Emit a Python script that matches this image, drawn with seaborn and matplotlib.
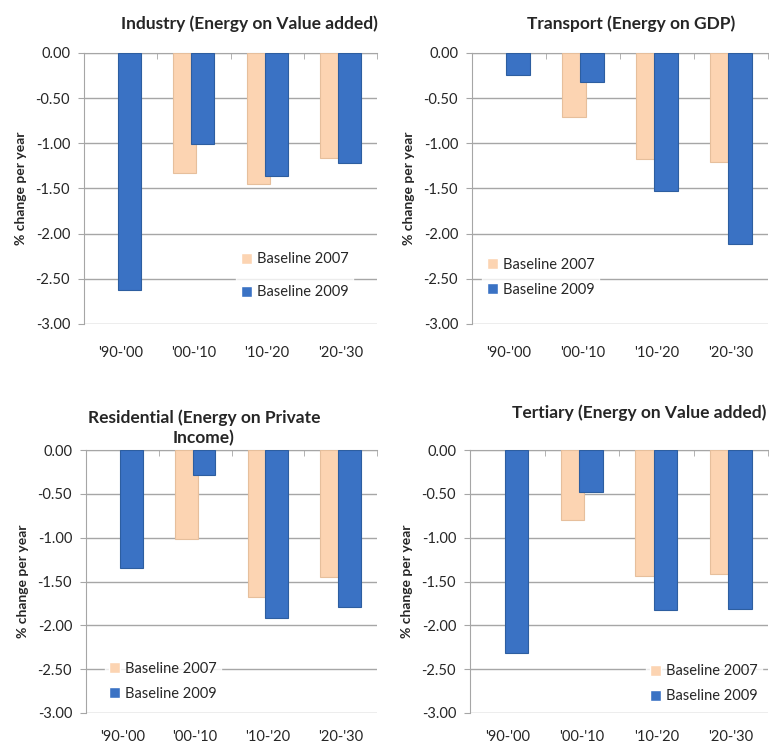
import pandas as pd
import numpy as np
import matplotlib
matplotlib.use("Agg")
import matplotlib.pyplot as plt
import seaborn as sns

periods = ["'90-'00", "'00-'10", "'10-'20", "'20-'30"]
series_names = ["Baseline 2007", "Baseline 2009"]

titles = ["Industry (Energy on Value added)",
          "Transport (Energy on GDP)",
          "Residential (Energy on Private\nIncome)",
          "Tertiary (Energy on Value added)"]

industry_2007 = [np.nan, -1.33, -1.45, -1.16]
industry_2009 = [-2.62, -1.01, -1.36, -1.22]
transport_2007 = [np.nan, -0.71, -1.17, -1.21]
transport_2009 = [-0.24, -0.32, -1.53, -2.11]
residential_2007 = [np.nan, -1.02, -1.68, -1.45]
residential_2009 = [-1.35, -0.29, -1.92, -1.79]
tertiary_2007 = [np.nan, -0.80, -1.44, -1.42]
tertiary_2009 = [-2.32, -0.48, -1.82, -1.81]

panels = [(industry_2007, industry_2009),
          (transport_2007, transport_2009),
          (residential_2007, residential_2009),
          (tertiary_2007, tertiary_2009)]

sns.set_style("white")
plt.rcParams['font.family'] = ['Lato', 'DejaVu Sans']

colors = {"Baseline 2007": "#fcd4b2", "Baseline 2009": "#3a72c4"}
edges = {"Baseline 2007": "#e6bf9c", "Baseline 2009": "#2d5ea0"}

fig = plt.figure(figsize=(7.69, 7.45), dpi=100)
W, H = 769, 745
# axes boxes in pixels: left, top, right, bottom
rects = [(84, 53, 377, 324), (472, 53, 768, 324),
         (86, 450, 377, 713), (470, 450, 768, 713)]
legend_pos = [(0.52, 0.075), (0.035, 0.085), (0.065, 0.03), (0.59, 0.02)]
legend_spacing = [1.3, 0.75, 0.75, 0.75]
title_x = [0.563, 0.537, 0.405, 0.567]
title_pad = [17, 17, 5, 23]
xlabel_pad = [16, 16, 12, 12]

for i, (s07, s09) in enumerate(panels):
    x0, y0, x1, y1 = rects[i]
    ax = fig.add_axes([x0 / W, 1 - y1 / H, (x1 - x0) / W, (y1 - y0) / H])
    df = pd.DataFrame({
        "period": periods * 2,
        "series": [series_names[0]] * 4 + [series_names[1]] * 4,
        "value": list(s07) + list(s09),
    })
    sns.barplot(data=df, x="period", y="value", hue="series",
                palette=colors, width=0.49, ax=ax, errorbar=None,
                saturation=1, zorder=3)
    # widen bars so neighbours overlap a bit (excel-like overlap)
    for bar in ax.patches:
        if bar.get_height() == 0 or np.isnan(bar.get_height()):
            continue
        c = bar.get_x() + bar.get_width() / 2
        bar.set_width(0.315)
        bar.set_x(c - 0.315 / 2)
    for cont, name in zip(ax.containers, series_names):
        for bar in cont:
            bar.set_edgecolor(edges[name])
            bar.set_linewidth(0.8)
    for bar in ax.containers[1]:
        bar.set_zorder(4)

    ax.set_ylim(-3.0, 0.0)
    ax.set_xlim(-0.5, 3.5)
    yt = np.arange(-3.0, 0.01, 0.5)
    ax.set_yticks(yt)
    ax.set_yticklabels([f"{v:.2f}" for v in yt])
    ax.yaxis.grid(True, color="#a6a6a6", linewidth=1.0, zorder=0)
    ax.set_axisbelow(True)
    for side in ["right", "bottom"]:
        ax.spines[side].set_visible(False)
    ax.spines["left"].set_color("#a6a6a6")
    ax.spines["top"].set_color("#a6a6a6")
    ax.set_xticks(range(4))
    ax.set_xticklabels(periods)
    ax.set_xticks([-0.5, 0.5, 1.5, 2.5, 3.5], minor=True)
    ax.tick_params(axis="x", which="major", length=0, pad=xlabel_pad[i],
                   labelsize=10.5)
    ax.tick_params(axis="x", which="minor", top=True, bottom=False,
                   direction="in", length=4, color="#a6a6a6")
    ax.tick_params(axis="y", left=True, length=4, color="#a6a6a6",
                   labelsize=10.5, pad=6)
    ax.set_xlabel("")
    ax.set_ylabel("% change per year", fontsize=10, fontweight="bold", labelpad=6)
    ax.set_title(titles[i], fontsize=12.5, fontweight="bold", pad=title_pad[i],
                 linespacing=1.25, multialignment="center")
    ax.title.set_x(title_x[i])

    leg = ax.legend(loc="lower left", bbox_to_anchor=legend_pos[i],
                    frameon=True, fancybox=False, fontsize=10.5,
                    handlelength=0.75, handleheight=0.75, handletextpad=0.35,
                    labelspacing=legend_spacing[i], borderpad=0.3,
                    borderaxespad=0)
    leg.get_frame().set_facecolor("white")
    leg.get_frame().set_edgecolor("white")
    leg.set_zorder(5)

fig.savefig("out.png", dpi=100)
